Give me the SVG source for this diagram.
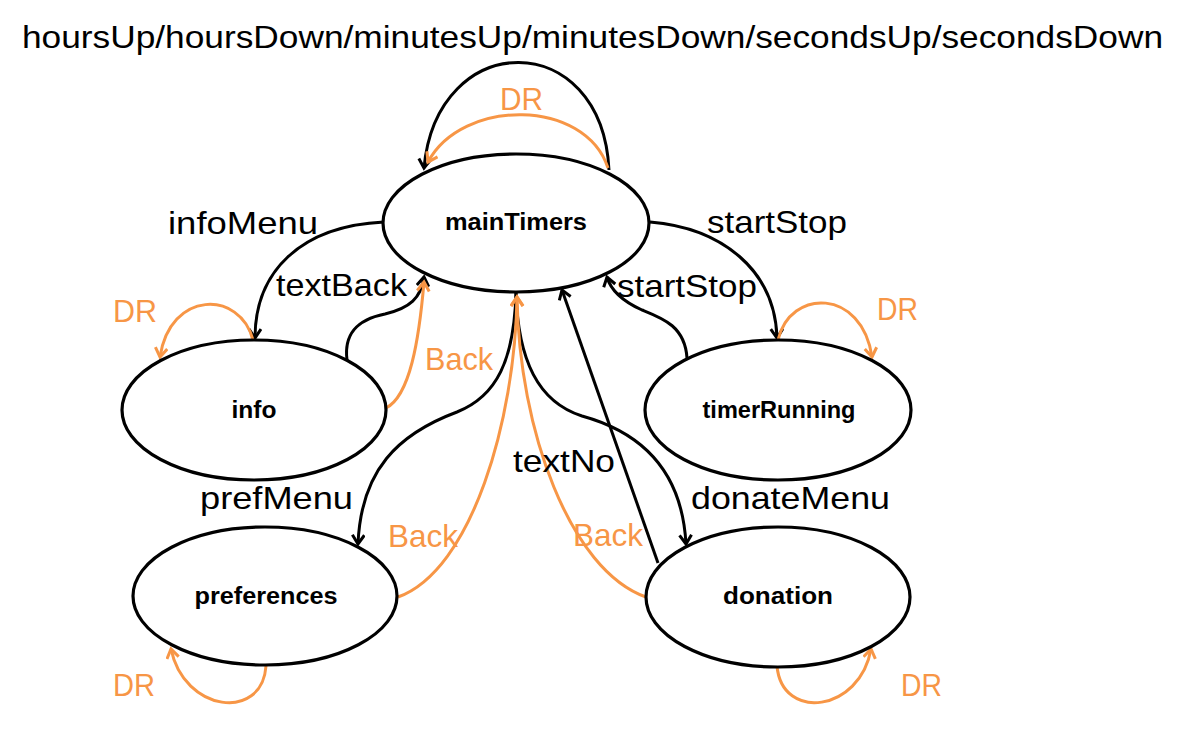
<svg xmlns="http://www.w3.org/2000/svg" width="1187" height="729" viewBox="0 0 1187 729">
<defs>
<style>
.node{fill:#fff;stroke:#000;stroke-width:3.2}
.nl{font-family:"Liberation Sans",Arial,sans-serif;font-weight:bold;font-size:23px;fill:#000;text-anchor:middle}
.e{fill:none;stroke:#000;stroke-width:3}
.o{fill:none;stroke:#F79646;stroke-width:3}
.eb{marker-end:url(#ab)}
.eo{marker-end:url(#ao)}
.lb{font-family:"Liberation Sans",Arial,sans-serif;font-size:32px;fill:#000}
.lo{font-family:"Liberation Sans",Arial,sans-serif;font-size:32px;fill:#F79646}
</style>
<marker id="ab" markerUnits="userSpaceOnUse" markerWidth="16" markerHeight="16" viewBox="0 0 16 16" refX="11" refY="7" orient="auto">
<path d="M2,1 L11,7 L2,13" fill="none" stroke="#000" stroke-width="3" stroke-linejoin="miter"/>
</marker>
<marker id="ao" markerUnits="userSpaceOnUse" markerWidth="16" markerHeight="16" viewBox="0 0 16 16" refX="11" refY="7" orient="auto">
<path d="M2,1 L11,7 L2,13" fill="none" stroke="#F79646" stroke-width="3" stroke-linejoin="miter"/>
</marker>
</defs>
<rect width="1187" height="729" fill="#fff"/>
<text class="lb" x="22" y="48" textLength="1141" lengthAdjust="spacingAndGlyphs">hoursUp/hoursDown/minutesUp/minutesDown/secondsUp/secondsDown</text>

<g id="connectors">
<g id="e-main-self">
<path class="e eb" d="M609,170 C602,27 437,27 424,168"/>
</g>
<g id="e-main-dr">
<path class="o eo" d="M608,168 C585,98 462,98 428,162"/>
<text class="lo" x="500" y="110" textLength="43" lengthAdjust="spacingAndGlyphs">DR</text>
</g>
<g id="e-infoMenu">
<path class="e eb" d="M384,222 C300,226 255,272 255,338"/>
<text class="lb" x="168" y="234" textLength="150" lengthAdjust="spacingAndGlyphs">infoMenu</text>
</g>
<g id="e-textBack">
<path class="e eb" d="M347,360 C343,328 365,318 385,314 C410,308 421,298 424,277"/>
<text class="lb" x="276" y="296" textLength="131" lengthAdjust="spacingAndGlyphs">textBack</text>
</g>
<g id="e-info-back">
<path class="o eo" d="M386,408 C410,396 419,340 424,282"/>
<text class="lo" x="425" y="370" textLength="68" lengthAdjust="spacingAndGlyphs">Back</text>
</g>
<g id="e-info-dr">
<path class="o eo" d="M253,340 C240,290 170,290 160,357"/>
<text class="lo" x="113" y="322" textLength="44" lengthAdjust="spacingAndGlyphs">DR</text>
</g>
<g id="e-startStop">
<path class="e eb" d="M650,222 C722,228 775,270 777,338"/>
<text class="lb" x="707" y="233" textLength="140" lengthAdjust="spacingAndGlyphs">startStop</text>
</g>
<g id="e-startStop-back">
<path class="e eb" d="M687,358 C685,326 662,318 642,310 C622,301 611,291 607,277"/>
<text class="lb" x="617" y="297" textLength="140" lengthAdjust="spacingAndGlyphs">startStop</text>
</g>
<g id="e-timer-dr">
<path class="o eo" d="M778,340 C790,288 862,288 872,357"/>
<text class="lo" x="877" y="320" textLength="41" lengthAdjust="spacingAndGlyphs">DR</text>
</g>
<g id="e-prefMenu">
<path class="e eb" d="M516,293 C514,360 497,396 457,412 C398,434 361,470 358,544"/>
<text class="lb" x="200" y="509" textLength="153" lengthAdjust="spacingAndGlyphs">prefMenu</text>
</g>
<g id="e-donateMenu">
<path class="e eb" d="M516,293 C518,360 538,402 582,416 C640,432 682,470 686,544"/>
<text class="lb" x="691" y="509" textLength="199" lengthAdjust="spacingAndGlyphs">donateMenu</text>
</g>
<g id="e-pref-back">
<path class="o eo" d="M398,597 C472,570 515,420 517,297"/>
<text class="lo" x="388" y="547" textLength="70" lengthAdjust="spacingAndGlyphs">Back</text>
</g>
<g id="e-don-back">
<path class="o eo" d="M646,597 C570,570 519,430 517,297"/>
<text class="lo" x="573" y="546" textLength="70" lengthAdjust="spacingAndGlyphs">Back</text>
</g>
<g id="e-textNo">
<path class="e eb" d="M658,563 L562,290"/>
<text class="lb" x="513" y="472" textLength="102" lengthAdjust="spacingAndGlyphs">textNo</text>
</g>
<g id="e-pref-dr">
<path class="o eo" d="M266,666 C262,722 184,712 171,649"/>
<text class="lo" x="113" y="696" textLength="42" lengthAdjust="spacingAndGlyphs">DR</text>
</g>
<g id="e-don-dr">
<path class="o eo" d="M777,666 C782,722 860,712 871,649"/>
<text class="lo" x="901" y="696" textLength="41" lengthAdjust="spacingAndGlyphs">DR</text>
</g>
</g>

<g id="mainTimers">
<ellipse class="node" cx="516" cy="223" rx="133" ry="69"/>
<text class="nl" x="516" y="230" textLength="142" lengthAdjust="spacingAndGlyphs">mainTimers</text>
</g>
<g id="info">
<ellipse class="node" cx="254" cy="410" rx="132" ry="70"/>
<text class="nl" x="254" y="418" textLength="45" lengthAdjust="spacingAndGlyphs">info</text>
</g>
<g id="timerRunning">
<ellipse class="node" cx="778" cy="410" rx="133" ry="70"/>
<text class="nl" x="779" y="418" textLength="153" lengthAdjust="spacingAndGlyphs">timerRunning</text>
</g>
<g id="preferences">
<ellipse class="node" cx="265" cy="596" rx="132" ry="69"/>
<text class="nl" x="266" y="604" textLength="143" lengthAdjust="spacingAndGlyphs">preferences</text>
</g>
<g id="donation">
<ellipse class="node" cx="778" cy="597" rx="132" ry="70"/>
<text class="nl" x="778" y="604" textLength="110" lengthAdjust="spacingAndGlyphs">donation</text>
</g>
</svg>
